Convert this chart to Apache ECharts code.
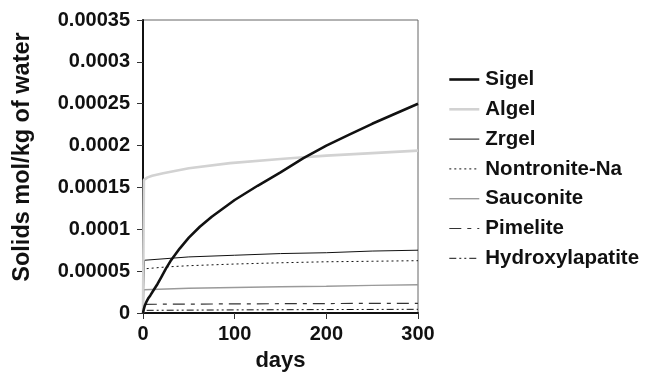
<!DOCTYPE html>
<html><head><meta charset="utf-8">
<script src="https://cdn.jsdelivr.net/npm/echarts@6/dist/echarts.min.js"></script>
<style>html,body{margin:0;padding:0;background:#fff}#c{width:645px;height:378px}</style>
</head><body><div id="c"></div>
<script>
const seriesNames = ['Sigel','Algel','Zrgel','Nontronite-Na','Sauconite','Pimelite','Hydroxylapatite'];
const yTickLabels = ['0','0.00005','0.0001','0.00015','0.0002','0.00025','0.0003','0.00035'];
const xTickLabels = ['0','100','200','300'];

const sigelDays = [0, 1, 2, 4, 6, 8, 12, 16, 20, 25, 30, 40, 50, 62, 75, 100, 125, 150, 175, 200, 225, 250, 275, 300];
const sigelVals = [0, 0.000005, 0.000009, 0.000014, 0.000018, 0.000021, 0.000028, 0.000035, 0.000043, 0.000053, 0.000062, 0.000077, 0.000090, 0.000103, 0.000115, 0.000135, 0.000152, 0.000168, 0.000185, 0.000200, 0.000213, 0.000226, 0.000238, 0.000250];

const algelDays = [0, 1, 5, 10, 22, 50, 95, 150, 175, 200, 250, 300];
const algelVals = [0, 0.000159, 0.000162, 0.000164, 0.000167, 0.000173, 0.000179, 0.000184, 0.000186, 0.000188, 0.000191, 0.000194];

const zrgelDays = [0, 1.5, 50, 100, 150, 200, 250, 300];
const zrgelVals = [0, 0.000063, 0.000067, 0.000069, 0.000071, 0.000072, 0.000074, 0.000075];

const nontroniteDays = [4, 25, 50, 100, 150, 200, 250, 300];
const nontroniteVals = [0.000053, 0.000055, 0.0000565, 0.0000585, 0.000060, 0.0000612, 0.0000618, 0.0000625];

const sauconiteDays = [0, 1, 50, 100, 150, 200, 250, 300];
const sauconiteVals = [0, 0.0000278, 0.0000295, 0.0000305, 0.0000313, 0.000032, 0.000033, 0.0000337];

const pimeliteDays = [2, 100, 200, 300];
const pimeliteVals = [0.0000104, 0.0000109, 0.0000113, 0.0000116];

const hydroxDays = [4, 100, 200, 300];
const hydroxVals = [0.0000032, 0.0000037, 0.0000041, 0.0000044];

function pairs(d, v){ return d.map((x,i)=>[x, v[i]]); }

const styles = [
  {color:'#111111', width:2.6, type:'solid'},
  {color:'#d2d2d2', width:2.6, type:'solid'},
  {color:'#111111', width:1, type:'solid'},
  {color:'#111111', width:1, type:[2,3]},
  {color:'#9a9a9a', width:1.4, type:'solid'},
  {color:'#333333', width:1.2, type:[12,6,4,6]},
  {color:'#111111', width:1, type:[7,3,2,3,2,3]}
];
const dataSets = [
  pairs(sigelDays, sigelVals), pairs(algelDays, algelVals), pairs(zrgelDays, zrgelVals),
  pairs(nontroniteDays, nontroniteVals), pairs(sauconiteDays, sauconiteVals),
  pairs(pimeliteDays, pimeliteVals), pairs(hydroxDays, hydroxVals)
];

const chart = echarts.init(document.getElementById('c'), null, {renderer:'canvas'});
const font = 'Liberation Sans, Arial, sans-serif';
chart.setOption({
  animation:false,
  backgroundColor:'#ffffff',
  grid:{left:143, right:227, top:20, bottom:65, show:true, borderColor:'#666666', borderWidth:1},
  legend:{
    orient:'vertical', left:443, top:64, itemWidth:30, itemHeight:14, itemGap:8.8,
    itemStyle:{opacity:0},
    textStyle:{fontFamily:font, fontWeight:'bold', fontSize:20.5, lineHeight:20, color:'#111', padding:[0,0,0,1]},
    data: seriesNames.map((n,i)=>({name:n, lineStyle:{width:styles[i].width, color:styles[i].color, type:styles[i].type}}))
  },
  xAxis:{
    type:'value', min:0, max:300, interval:100,
    name:'days', nameLocation:'middle', nameGap:37,
    nameTextStyle:{fontFamily:font, fontWeight:'bold', fontSize:22, color:'#111'},
    axisLine:{lineStyle:{color:'#111', width:2}},
    axisTick:{show:true, length:6, lineStyle:{color:'#333', width:1}},
    axisLabel:{fontFamily:font, fontWeight:'bold', fontSize:20, color:'#111', margin:11,
      formatter:(v)=>xTickLabels[Math.round(v/100)]},
    splitLine:{show:false}
  },
  yAxis:{
    type:'value', min:0, max:0.00035, interval:0.00005,
    axisLine:{show:true, lineStyle:{color:'#111', width:2}},
    axisTick:{show:true, length:6, lineStyle:{color:'#333', width:1}},
    axisLabel:{fontFamily:font, fontWeight:'bold', fontSize:20, color:'#111', margin:13,
      formatter:(v)=>yTickLabels[Math.round(v/0.00005)]},
    splitLine:{show:false}
  },
  graphic:[{
    type:'text', x:23, y:157, rotation:Math.PI/2,
    style:{text:'Solids mol/kg of water', font:'bold 23.5px '+font, fill:'#111', textAlign:'center', textVerticalAlign:'middle'}
  }],
  series: seriesNames.map((n,i)=>({
    name:n, type:'line', data:dataSets[i], showSymbol:false, symbol:'none', smooth:false,
    lineStyle:{color:styles[i].color, width:styles[i].width, type:styles[i].type},
    itemStyle:{color:styles[i].color},
    z: 10 - i
  }))
});
</script></body></html>
